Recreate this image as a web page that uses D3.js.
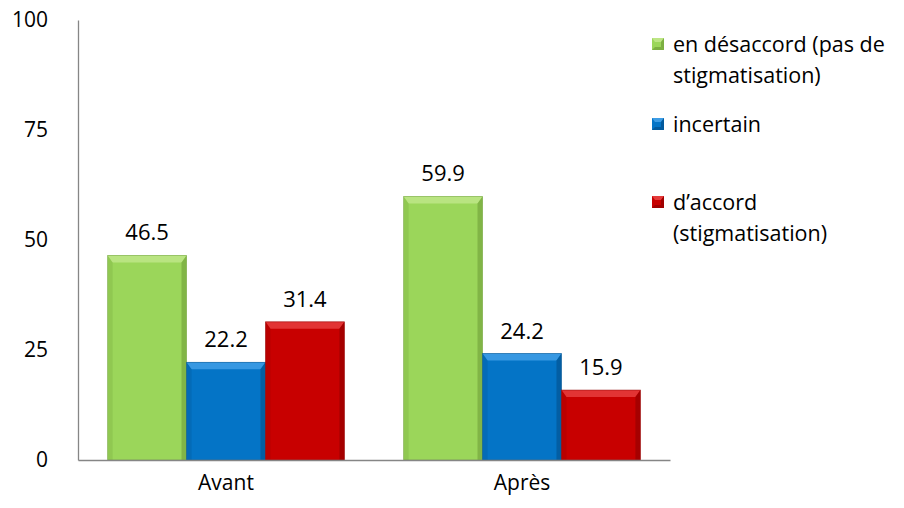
<!DOCTYPE html>
<html><head><meta charset="utf-8">
<script src="https://cdn.jsdelivr.net/npm/d3@7"></script>
<style>body{margin:0;background:#fff;} svg{display:block;font-family:"Open Sans","Noto Sans",sans-serif;}</style>
</head><body><svg id="c" width="904" height="508"></svg>
<script>
const categories = ["Avant", "Après"];
const seriesNames = ["en désaccord (pas de stigmatisation)", "incertain", "d’accord (stigmatisation)"];
const legendLines = [["en désaccord (pas de", "stigmatisation)"], ["incertain"], ["d’accord", "(stigmatisation)"]];
const desaccord = [46.5, 59.9];
const incertain = [22.2, 24.2];
const accord = [31.4, 15.9];
const yTicks = [0, 25, 50, 75, 100];
const colors = ["#9bd65a", "#0474c6", "#c80000"];
const lights = ["#bde585", "#3d9ce4", "#e43a3a"];
const darks = ["#6f9e38", "#03508c", "#8e0000"];

const series = [desaccord, incertain, accord];
const svg = d3.select("#c");
const x = d3.scaleBand().domain(categories).range([78, 670]).paddingInner(0.2).paddingOuter(0.1);
const x1 = d3.scaleBand().domain(d3.range(3)).range([0, x.bandwidth()]);
const y = d3.scaleLinear().domain([0, 100]).range([460, 20]);

// axes
const ya = svg.append("g").attr("transform","translate(78,0)").call(d3.axisLeft(y).tickValues(yTicks).tickSize(0).tickPadding(30));
ya.select(".domain").attr("stroke","#868686").attr("stroke-width",1.3);
ya.selectAll("text").attr("font-size",21).attr("fill","#000").attr("font-family","'Open Sans','Noto Sans',sans-serif");

const bevT = 7, bevS = 5;
categories.forEach((c, ci) => {
  series.forEach((s, si) => {
    const v = s[ci];
    const x0 = x(c) + x1(si), w = x1.bandwidth(), yt = y(v), yb = y(0);
    const g = svg.append("g");
    g.append("rect").attr("x", x0).attr("y", yt).attr("width", w).attr("height", yb - yt).attr("fill", colors[si]);
    g.append("polygon").attr("points", [[x0,yt],[x0+w,yt],[x0+w-bevS,yt+bevT],[x0+bevS,yt+bevT]].join(" ")).attr("fill", lights[si]).attr("opacity",0.9);
    g.append("polygon").attr("points", [[x0+w,yt],[x0+w-bevS,yt+bevT],[x0+w-bevS,yb],[x0+w,yb]].join(" ")).attr("fill", darks[si]).attr("opacity",0.6);
    g.append("polygon").attr("points", [[x0,yt],[x0+bevS,yt+bevT],[x0+bevS,yb],[x0,yb]].join(" ")).attr("fill", darks[si]).attr("opacity",0.25);
    g.append("rect").attr("x", x0).attr("y", yt).attr("width", w).attr("height", yb - yt).attr("fill","none").attr("stroke",darks[si]).attr("stroke-width",0.8).attr("opacity",0.6);
    svg.append("text").attr("x", x0 + w/2).attr("y", yt - 15).attr("text-anchor","middle")
      .attr("font-size",22).attr("fill","#000").text(v.toFixed(1));
  });
});

// x axis
const xa = svg.append("g").attr("transform","translate(0,460)").call(d3.axisBottom(x).tickSize(0).tickPadding(15));
xa.select(".domain").attr("stroke","#868686").attr("stroke-width",1.3);
xa.selectAll("text").attr("font-size",21).attr("fill","#000").attr("font-family","'Open Sans','Noto Sans',sans-serif");

// legend
const legY = [44, 124, 202];
legendLines.forEach((lines, i) => {
  const g = svg.append("g").attr("transform", `translate(652,${legY[i]})`);
  g.append("rect").attr("x",0).attr("y",-6).attr("width",12).attr("height",12).attr("fill",colors[i]);
  g.append("polygon").attr("points","0,-6 12,-6 9,-2 3,-2").attr("fill",lights[i]);
  g.append("polygon").attr("points","12,-6 12,6 9,3 9,-2").attr("fill",darks[i]).attr("opacity",0.7);
  g.append("polygon").attr("points","0,6 12,6 9,3 3,3").attr("fill",darks[i]).attr("opacity",0.7);
  lines.forEach((t, li) => {
    g.append("text").attr("x",21).attr("y", 8 + li*31).attr("font-size",21.5).attr("fill","#000").text(t);
  });
});
</script></body></html>
